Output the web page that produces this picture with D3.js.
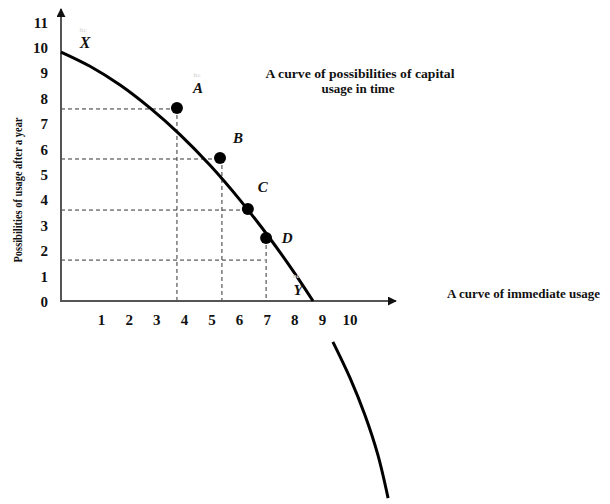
<!DOCTYPE html>
<html>
<head>
<meta charset="utf-8">
<script src="https://cdn.jsdelivr.net/npm/d3@7"></script>
<style>
  body { margin: 0; background: #fff; }
  svg text { font-family: "Liberation Serif", "Times New Roman", serif; font-weight: bold; }
</style>
</head>
<body>
<div id="content"></div>
<script>
const W = 610, H = 504;

// tick labels
const yTicks = [0, 1, 2, 3, 4, 5, 6, 7, 8, 9, 10, 11];
const xTicks = [1, 2, 3, 4, 5, 6, 7, 8, 9, 10];

// the possibilities curve (null = break where it crosses the labels)
const curveX = [-0.47, 0.58, 1.67, 2.75, 3.84, 4.93, 6.01, 7.10, 8.01, 8.66, null, 9.38, 10.0, 10.54, 11.01, 11.38];
const curveY = [9.84, 9.28, 8.54, 7.64, 6.59, 5.38, 4.02, 2.50, 1.11, 0.04, null, -1.57, -2.99, -4.45, -6.02, -7.72];

// named points
const pointNames = ["A", "B", "C", "D"];
const pointX = [3.73, 5.29, 6.30, 6.96];
const pointY = [7.64, 5.67, 3.66, 2.52];

// dashed guides
const hGuideY = [7.60, 5.63, 3.62, 1.65];
const hGuideTo = [3.73, 5.30, 6.15, 6.90];
const vGuideX = [3.73, 5.36, 6.96];
const vGuideFrom = [7.64, 5.67, 2.52];

const x = d3.scaleLinear().domain([0, 10]).range([74, 350]);
const y = d3.scaleLinear().domain([0, 11]).range([302, 22.6]);
const X0 = 61, Y0 = 301;

const svg = d3.select("#content").append("svg")
    .attr("width", W).attr("height", H);

svg.append("defs").append("marker")
    .attr("id", "arr").attr("viewBox", "0 0 10 10")
    .attr("refX", 9).attr("refY", 5)
    .attr("markerWidth", 4.5).attr("markerHeight", 4.5)
    .attr("markerUnits", "strokeWidth")
    .attr("orient", "auto")
  .append("path").attr("d", "M0,0 L10,5 L0,10 z").attr("fill", "#111");

// dashed guides
svg.selectAll(".hg").data(hGuideY).enter().append("line")
    .attr("x1", X0).attr("x2", (d, i) => x(hGuideTo[i]))
    .attr("y1", d => y(d)).attr("y2", d => y(d))
    .attr("stroke", "#333").attr("stroke-width", 1).attr("stroke-dasharray", "4,3");
svg.selectAll(".vg").data(vGuideX).enter().append("line")
    .attr("x1", d => x(d)).attr("x2", d => x(d))
    .attr("y1", (d, i) => y(vGuideFrom[i])).attr("y2", Y0)
    .attr("stroke", "#333").attr("stroke-width", 1).attr("stroke-dasharray", "4,3");

// axes
svg.append("line").attr("x1", X0).attr("x2", X0).attr("y1", Y0 + 1).attr("y2", 9)
    .attr("stroke", "#555").attr("stroke-width", 2).attr("marker-end", "url(#arr)");
svg.append("line").attr("x1", X0 - 1).attr("x2", 396).attr("y1", Y0).attr("y2", Y0)
    .attr("stroke", "#555").attr("stroke-width", 2).attr("marker-end", "url(#arr)");

// tick labels
svg.selectAll(".yt").data(yTicks).enter().append("text")
    .attr("x", 48).attr("y", d => y(d) + 5)
    .attr("text-anchor", "end").attr("font-size", 15).attr("fill", "#111")
    .text(d => d);
svg.selectAll(".xt").data(xTicks).enter().append("text")
    .attr("x", d => x(d)).attr("y", 325)
    .attr("text-anchor", "middle").attr("font-size", 15).attr("fill", "#111")
    .text(d => d);

// curve
const curveData = curveX.map((d, i) => d === null ? null : [d, curveY[i]]);
svg.append("path").datum(curveData)
    .attr("d", d3.line().defined(d => d !== null)
        .x(d => x(d[0])).y(d => y(d[1])).curve(d3.curveCatmullRom))
    .attr("fill", "none").attr("stroke", "#000").attr("stroke-width", 3);

// points
svg.selectAll(".pt").data(pointNames).enter().append("circle")
    .attr("cx", (d, i) => x(pointX[i])).attr("cy", (d, i) => y(pointY[i]))
    .attr("r", 6).attr("fill", "#000");

const labelOffX = [21, 18, 15, 21];
const labelOffY = [-15, -15, -17, 5];
svg.selectAll(".pl").data(pointNames).enter().append("text")
    .attr("x", (d, i) => x(pointX[i]) + labelOffX[i])
    .attr("y", (d, i) => y(pointY[i]) + labelOffY[i])
    .attr("text-anchor", "middle").attr("font-size", 15).attr("font-style", "italic")
    .attr("fill", "#111").text(d => d);

svg.append("text").attr("x", 85).attr("y", 48).attr("text-anchor", "middle")
    .attr("font-size", 16).attr("font-style", "italic").attr("fill", "#111").text("X");
svg.append("text").attr("x", 298).attr("y", 295).attr("text-anchor", "middle")
    .attr("font-size", 15).attr("font-style", "italic").attr("fill", "#111").text("Y");

// faint marks
[[83, 32], [197, 77], [296, 278]].forEach(p => {
    svg.append("text").attr("x", p[0]).attr("y", p[1]).attr("text-anchor", "middle")
        .attr("font-size", 7).attr("font-weight", "normal").attr("fill", "#ddd").text("hc");
});

// annotations
svg.append("text").attr("x", 360).attr("y", 78).attr("text-anchor", "middle")
    .attr("font-size", 13).attr("fill", "#111")
    .attr("textLength", 189).attr("lengthAdjust", "spacingAndGlyphs")
    .text("A curve of possibilities of capital");
svg.append("text").attr("x", 358).attr("y", 93).attr("text-anchor", "middle")
    .attr("font-size", 13).attr("fill", "#111").text("usage in time");
svg.append("text").attr("x", 447).attr("y", 298)
    .attr("font-size", 13).attr("fill", "#111").text("A curve of immediate usage");

svg.append("text")
    .attr("transform", "translate(22,190) rotate(-90)")
    .attr("text-anchor", "middle").attr("font-size", 12).attr("fill", "#111")
    .attr("textLength", 145).attr("lengthAdjust", "spacingAndGlyphs")
    .text("Possibilities of usage after a year");
</script>
</body>
</html>
